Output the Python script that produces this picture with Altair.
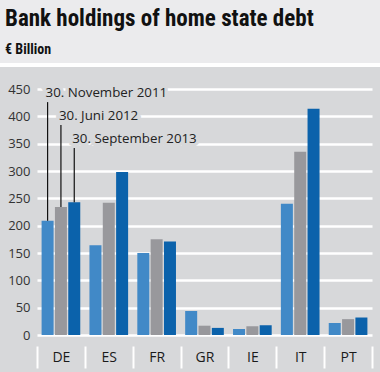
import altair as alt
import pandas as pd

countries = ["DE", "ES", "FR", "GR", "IE", "IT", "PT"]
series = ["30. November 2011", "30. Juni 2012", "30. September 2013"]
nov_2011 = [209, 164, 150, 44, 11, 240, 22]
jun_2012 = [234, 242, 175, 17, 16, 335, 29]
sep_2013 = [243, 298, 171, 13, 18, 414, 32]
label_levels = [443, 401, 359]
y_ticks = [0, 50, 100, 150, 200, 250, 300, 350, 400, 450]

colors = ["#4189c7", "#98989c", "#0b62ab"]
BG = "#d7d8da"
HEADER = "#ebebed"
FONT = "Open Sans"
TFONT = "Liberation Sans Narrow, Roboto Condensed, Roboto"

rows = []
for s, vals in zip(series, [nov_2011, jun_2012, sep_2013]):
    for c, v in zip(countries, vals):
        rows.append({"country": c, "series": s, "value": v})
df = pd.DataFrame(rows)

de_tops = [vals[0] for vals in [nov_2011, jun_2012, sep_2013]]
ann = pd.DataFrame({
    "country": [countries[0]] * 3,
    "series": series,
    "label_y": label_levels,
    "bar_top": de_tops,
})
ann["line_top"] = ann["label_y"] - 17

x_axis = alt.Axis(title=None, domain=False, tickBand="extent", tickColor="white",
                  tickWidth=2, tickSize=22, offset=11, labelPadding=-11,
                  labelBaseline="middle", labelAngle=0, labelFontSize=14,
                  labelColor="#1a1a1a", labelFont=FONT)
x_scale = alt.Scale(paddingInner=0, paddingOuter=0)
xo_scale = alt.Scale(paddingInner=0.1, paddingOuter=0.345)
y_scale = alt.Scale(domain=[0, 450], nice=False)
y_axis = alt.Axis(title=None, values=y_ticks, domain=False, ticks=False,
                  gridColor="white", gridWidth=2.5, labelPadding=7, labelOverlap=False,
                  labelFontSize=13, labelColor="#333", labelFont=FONT)


def xe():
    return alt.X("country:N", sort=countries, scale=x_scale, axis=x_axis)


def xoe():
    return alt.XOffset("series:N", sort=series, scale=xo_scale)


dummy = pd.DataFrame({"k": [0]})
header = alt.Chart(dummy).mark_rect(color=HEADER).encode(
    x=alt.value(-37), x2=alt.value(343), y=alt.value(-89), y2=alt.value(-26))
sep = alt.Chart(dummy).mark_rect(color="white").encode(
    x=alt.value(-37), x2=alt.value(343), y=alt.value(-26), y2=alt.value(-22))

bars = alt.Chart(df).mark_bar().encode(
    x=xe(), xOffset=xoe(),
    y=alt.Y("value:Q", scale=y_scale, axis=y_axis),
    color=alt.Color("series:N", scale=alt.Scale(domain=series, range=colors), legend=None),
)

rules = alt.Chart(ann).mark_rule(color="#111", strokeWidth=1.2).encode(
    x=xe(), xOffset=xoe(),
    y=alt.Y("bar_top:Q", scale=y_scale, axis=y_axis), y2="line_top:Q")

halo = alt.Chart(ann).mark_text(align="left", baseline="middle", dx=-2, font=FONT,
                                fontSize=13.3, stroke=BG, strokeWidth=7, color=BG).encode(
    x=xe(), xOffset=xoe(),
    y=alt.Y("label_y:Q", scale=y_scale, axis=y_axis), text="series:N")

texts = alt.Chart(ann).mark_text(align="left", baseline="middle", dx=-2, font=FONT,
                                 fontSize=13.3, color="#222").encode(
    x=xe(), xOffset=xoe(),
    y=alt.Y("label_y:Q", scale=y_scale, axis=y_axis), text="series:N")

chart = alt.layer(header, sep, bars, rules, halo, texts).properties(
    width=335, height=246,
    autosize=alt.AutoSizeParams(type="none"),
    padding={"left": 37, "top": 89, "right": 8, "bottom": 37},
    background=BG,
    title=alt.TitleParams(
        "Bank holdings of home state debt", subtitle="€ Billion", anchor="start",
        frame="group",
        font=TFONT, fontSize=23, fontWeight="bold", color="#111",
        subtitleFont=TFONT, subtitleFontSize=14, subtitleFontWeight="bold",
        subtitleColor="#111", subtitlePadding=12, dx=-32, offset=-57, zindex=1),
).configure_view(stroke=None, fill=None)

chart.save("out.html", embed_options={"renderer": "svg", "actions": False})
